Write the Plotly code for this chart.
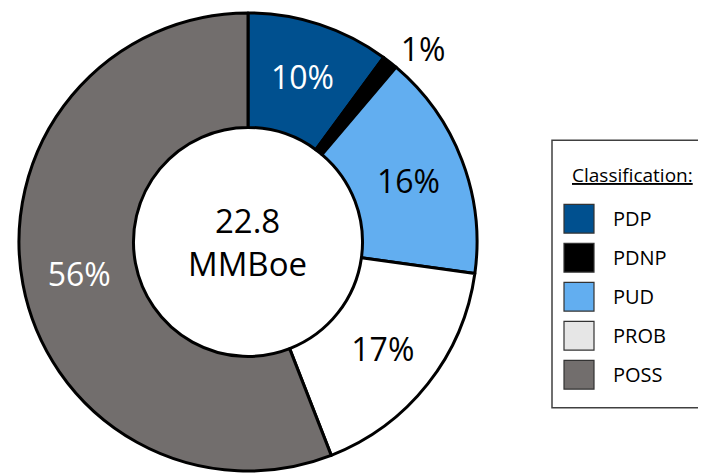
import plotly.graph_objects as go

# ---- data ----
categories = ["PDP", "PDNP", "PUD", "PROB", "POSS"]
values = [2.30, 0.25, 3.65, 3.85, 12.75]          # MMBoe
slice_colors = ["#00508F", "#000000", "#62AEF0", "#FFFFFF", "#726E6D"]
legend_colors = ["#00508F", "#000000", "#62AEF0", "#E6E6E6", "#726E6D"]
label_colors = ["white", "black", "black", "black", "white"]
label_positions = ["inside", "outside", "inside", "inside", "inside"]
unit = "MMBoe"
legend_title = "Classification:"

# the page body has an 8px margin, so the figure is drawn 8px right/down
OFF = 8
W, H = 706 - OFF, 476 - OFF
FONT = "Open Sans"

def px(x):   # screen x -> paper
    return (x - OFF) / W

def py(y):   # screen y -> paper
    return 1 - (y - OFF) / H

# pie placement (screen pixels)
cx, cy, R = 248, 244, 232
dom_x = [px(cx - R), px(cx + R)]
dom_y = [py(cy + R), py(cy - R)]

fig = go.Figure()
fig.add_trace(go.Pie(
    labels=categories,
    values=values,
    sort=False,
    direction="clockwise",
    rotation=0,
    hole=0.5,
    marker=dict(colors=slice_colors, line=dict(color="black", width=3)),
    texttemplate="%{percent:.0%}",
    textposition=label_positions,
    insidetextorientation="horizontal",
    textfont=dict(family=FONT, size=32, color=label_colors),
    showlegend=False,
    domain=dict(x=dom_x, y=dom_y),
))

total = sum(values)
annotations = [dict(
    x=(dom_x[0] + dom_x[1]) / 2, y=(dom_y[0] + dom_y[1]) / 2,
    xref="paper", yref="paper", xanchor="center", yanchor="middle",
    text=f"{total:.1f}<br>{unit}", showarrow=False,
    font=dict(family=FONT, size=33, color="black"),
)]

# ---- custom legend (box, title, swatches) ----
shapes = [dict(type="rect", xref="paper", yref="paper",
               x0=px(552), x1=px(720), y0=py(412), y1=py(141),
               line=dict(color="#404040", width=1.5), fillcolor="white", layer="below")]

annotations.append(dict(
    x=px(632), y=py(176), xref="paper", yref="paper",
    xanchor="center", yanchor="middle", showarrow=False,
    text=f"<u>{legend_title}</u>",
    font=dict(family=FONT, size=19, color="black"),
))

first_y, step = 220.5, 39.5
for i, (cat, col) in enumerate(zip(categories, legend_colors)):
    yc = first_y + i * step
    shapes.append(dict(type="rect", xref="paper", yref="paper",
                       x0=px(564), x1=px(594), y0=py(yc + 14.5), y1=py(yc - 14.5),
                       line=dict(color="#333333", width=1.2), fillcolor=col))
    annotations.append(dict(
        x=px(611), y=py(yc), xref="paper", yref="paper",
        xanchor="left", yanchor="middle", showarrow=False, text=cat,
        font=dict(family=FONT, size=20, color="black"),
    ))

fig.update_layout(
    width=W, height=H,
    margin=dict(l=0, r=0, t=0, b=0),
    paper_bgcolor="white", plot_bgcolor="white",
    uniformtext=dict(minsize=32, mode="show"),
    shapes=shapes,
    annotations=annotations,
    font=dict(family=FONT),
)

fig.write_html("out.html")
